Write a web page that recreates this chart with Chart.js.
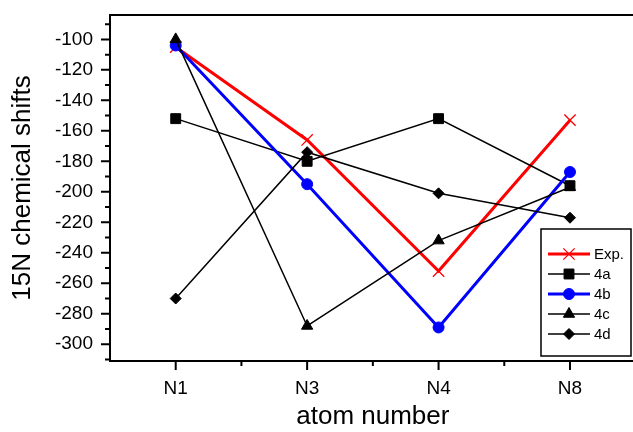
<!DOCTYPE html>
<html>
<head>
<meta charset="utf-8">
<script src="https://cdn.jsdelivr.net/npm/chart.js@4/dist/chart.umd.min.js"></script>
<style>
  html, body { margin: 0; padding: 0; background: #fff; overflow: hidden; }
  #wrap { width: 633px; height: 432px; overflow: hidden; }
</style>
</head>
<body>
<div id="wrap"><canvas id="shifts" width="645" height="432"></canvas></div>
<script>
const atoms = ['N1', 'N3', 'N4', 'N8'];
const expShifts = [-105, -166, -252, -153];
const shifts4a = [-152, -180, -152, -196];
const shifts4b = [-104, -195, -289, -187];
const shifts4c = [-100, -288, -232, -197];
const shifts4d = [-270, -174, -201, -217];

const FONT = "'Liberation Sans', Arial, sans-serif";

function series(label, data, color, width, style, radius, order) {
  return {
    label,
    data,
    borderColor: color,
    backgroundColor: color,
    borderWidth: width,
    pointStyle: style,
    pointRadius: radius,
    pointBorderWidth: style === 'crossRot' ? 1.3 : 1,
    pointBackgroundColor: color,
    pointBorderColor: color,
    tension: 0,
    order
  };
}

function noPadding(scale) {
  scale.paddingTop = 0;
  scale.paddingBottom = 0;
  scale.paddingLeft = 0;
  scale.paddingRight = 0;
}

// axis frame, ticks and the boxed legend inside the plot
const framePlugin = {
  id: 'frame',
  afterDraw(chart) {
    const { ctx, chartArea: a, scales: { x, y } } = chart;
    ctx.save();
    ctx.strokeStyle = '#000';
    ctx.lineWidth = 2;
    ctx.beginPath();
    ctx.moveTo(a.right, a.top);
    ctx.lineTo(a.left, a.top);
    ctx.lineTo(a.left, a.bottom);
    ctx.lineTo(a.right, a.bottom);

    const yMajor = y.ticks.map((t) => t.value);
    const yStep = yMajor[1] - yMajor[0];
    yMajor.forEach((v) => {
      const py = y.getPixelForValue(v);
      ctx.moveTo(a.left, py);
      ctx.lineTo(a.left - 9, py);
      [v - yStep / 2, v + yStep / 2].forEach((m) => {
        const pm = y.getPixelForValue(m);
        if (pm >= a.top && pm <= a.bottom) {
          ctx.moveTo(a.left, pm);
          ctx.lineTo(a.left - 5, pm);
        }
      });
    });

    x.ticks.forEach((t, i) => {
      const px = x.getPixelForTick(i);
      ctx.moveTo(px, a.bottom);
      ctx.lineTo(px, a.bottom + 9);
      if (i < x.ticks.length - 1) {
        const mid = (px + x.getPixelForTick(i + 1)) / 2;
        ctx.moveTo(mid, a.bottom);
        ctx.lineTo(mid, a.bottom + 5);
      }
    });
    ctx.stroke();

    // legend box
    const box = { left: 541, top: 229, width: 90, height: 127 };
    ctx.lineWidth = 1.5;
    ctx.strokeRect(box.left, box.top, box.width, box.height);
    ctx.font = '15px ' + FONT;
    ctx.textBaseline = 'middle';
    ctx.textAlign = 'left';
    chart.data.datasets.forEach((ds, i) => {
      const cy = box.top + 25 + i * 20;
      ctx.strokeStyle = ds.borderColor;
      ctx.fillStyle = ds.backgroundColor;
      ctx.lineWidth = ds.borderWidth;
      ctx.beginPath();
      ctx.moveTo(box.left + 7, cy);
      ctx.lineTo(box.left + 49, cy);
      ctx.stroke();
      ctx.lineWidth = ds.pointBorderWidth;
      Chart.helpers.drawPoint(ctx, {
        pointStyle: ds.pointStyle,
        radius: ds.pointRadius,
        rotation: 0,
        borderWidth: ds.pointBorderWidth
      }, box.left + 28, cy);
      ctx.fillStyle = '#000';
      ctx.fillText(ds.label, box.left + 53, cy + 1);
    });
    ctx.restore();
  }
};

new Chart(document.getElementById('shifts'), {
  type: 'line',
  data: {
    labels: atoms,
    datasets: [
      series('Exp.', expShifts, '#ff0000', 3, 'crossRot', 8, 5),
      series('4a', shifts4a, '#000000', 1.5, 'rect', 7, 4),
      series('4b', shifts4b, '#0000ff', 3, 'circle', 5.5, 3),
      series('4c', shifts4c, '#000000', 1.5, 'triangle', 6.5, 2),
      series('4d', shifts4d, '#000000', 1.5, 'rectRot', 5.5, 1)
    ]
  },
  options: {
    responsive: false,
    animation: false,
    layout: { padding: { top: 15, right: 7, left: 0, bottom: 0 } },
    plugins: {
      legend: { display: false },
      tooltip: { enabled: false }
    },
    scales: {
      x: {
        type: 'category',
        offset: true,
        grid: { display: false, drawTicks: false },
        border: { display: false },
        ticks: { color: '#000', font: { family: FONT, size: 19 }, padding: 16 },
        title: {
          display: true,
          text: 'atom number',
          color: '#000',
          font: { family: FONT, size: 26 },
          padding: { top: 0, bottom: 0 }
        },
        afterFit: (scale) => { scale.height = 71; noPadding(scale); }
      },
      y: {
        min: -311,
        max: -84,
        grid: { display: false, drawTicks: false },
        border: { display: false },
        ticks: {
          stepSize: 20,
          includeBounds: false,
          color: '#000',
          font: { family: FONT, size: 19 },
          padding: 17
        },
        title: {
          display: true,
          text: '15N chemical shifts',
          color: '#000',
          font: { family: FONT, size: 26 },
          padding: { top: 7, bottom: 0 }
        },
        afterFit: (scale) => { scale.width = 110; noPadding(scale); }
      }
    }
  },
  plugins: [framePlugin]
});
</script>
</body>
</html>
